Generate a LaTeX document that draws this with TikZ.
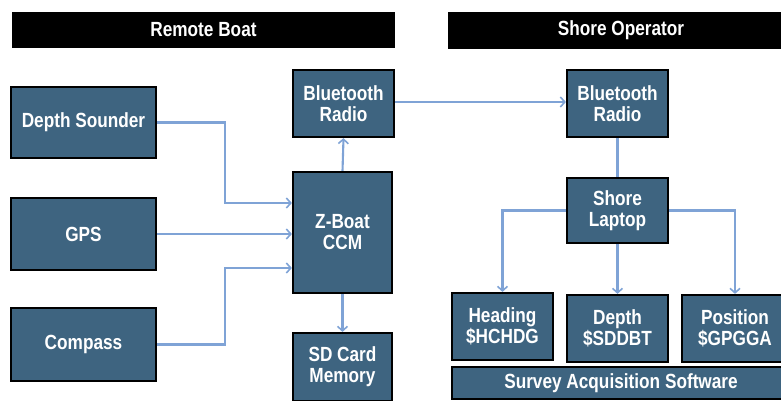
\documentclass[tikz,border=0pt]{standalone}
\usepackage{fontspec}
\setmainfont{Liberation Sans}[FakeStretch=0.84]
\usetikzlibrary{arrows.meta,calc}
\definecolor{boxfill}{HTML}{3E6480}
\definecolor{linecol}{HTML}{7FA3D6}
\tikzset{
  blk/.style={draw=black, line width=2.2pt, fill=boxfill, text=white, font=\fontsize{20.5}{21}\selectfont\bfseries, align=center, inner sep=0pt},
  hdr/.style={fill=black, text=white, font=\fontsize{20.5}{21}\selectfont\bfseries, inner sep=0pt},
  arr/.style={draw=linecol, line width=2.1pt, -{Straight Barb[length=4.5pt,width=10pt,line width=1.6pt]}},
  ln/.style={draw=linecol, line width=2.1pt}
}
\begin{document}
\begin{tikzpicture}[x=1pt,y=-1pt]
\useasboundingbox (0,0) rectangle (781,400);
\clip (0,0) rectangle (781,400);
\node[hdr, minimum width=383pt, minimum height=36pt] (hl) at (203.5,30) {Remote Boat};
\node[hdr, minimum width=346pt, minimum height=37pt] (hr) at (621,30.5) {Shore Operator};

\node[blk, minimum width=145pt, minimum height=71pt] (ds) at (83.5,122.5) {Depth Sounder};
\node[blk, minimum width=145pt, minimum height=72pt] (gps) at (83.5,234) {GPS};
\node[blk, minimum width=145pt, minimum height=73pt] (cmp) at (83.5,344.5) {Compass};
\node[blk, minimum width=101pt, minimum height=67pt] (btl) at (343.5,103.5) {Bluetooth\\Radio};
\node[blk, minimum width=99pt, minimum height=121pt] (ccm) at (342.5,232.5) {Z-Boat\\CCM};
\node[blk, minimum width=99pt, minimum height=68pt] (sd) at (342.5,367) {SD Card\\Memory};

\node[blk, minimum width=101pt, minimum height=67pt] (btr) at (617.5,103.5) {Bluetooth\\Radio};
\node[blk, minimum width=101pt, minimum height=65pt] (lap) at (617.5,210.5) {Shore\\Laptop};
\node[blk, minimum width=101pt, minimum height=67pt] (hd) at (502.5,326.5) {Heading\\\$HCHDG};
\node[blk, minimum width=101pt, minimum height=67pt] (dp) at (617.5,328.5) {Depth\\\$SDDBT};
\node[blk, minimum width=106pt, minimum height=67pt] (pos) at (735,328.5) {Position\\\$GPGGA};
\node[blk, minimum width=338pt, minimum height=32pt] (sw) at (621,383) {Survey Acquisition Software};

\draw[arr] (ds.east) -- (225,122.5) |- ([yshift=29.5pt]ccm.west);
\draw[arr] (gps.east) -- (ccm.west |- gps.east);
\draw[arr] (cmp.east) -- (225,344.5) |- ([yshift=-35.5pt]ccm.west);
\draw[arr] (ccm.north) -- (btl.south);
\draw[arr] (ccm.south) -- (sd.north);
\draw[arr] ([yshift=1.5pt]btl.east) -- ([yshift=1.5pt]btr.west);
\draw[ln] (btr.south) -- (lap.north);
\draw[arr] (lap.west) -| (hd.north);
\draw[arr] (lap.south) -- (dp.north);
\draw[arr] (lap.east) -| (pos.north);
\end{tikzpicture}
\end{document}
